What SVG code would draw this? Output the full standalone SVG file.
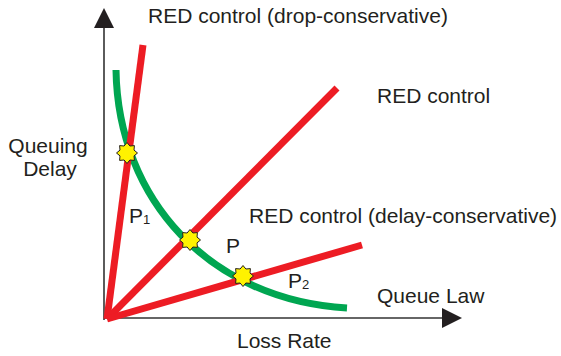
<svg xmlns="http://www.w3.org/2000/svg" xmlns:xlink="http://www.w3.org/1999/xlink" width="561" height="356" viewBox="0 0 561 356">
<style>
  text { font-family: "Liberation Sans", Arial, sans-serif; font-size: 21px; fill: #231f20; }
  .axis { stroke: #333; stroke-width: 1.6; fill: none; }
  .red { stroke: #ed1c24; stroke-width: 7; fill: none; }
  .green { stroke: #00a651; stroke-width: 7; fill: none; }
  .star { fill: #fff200; stroke: #231f20; stroke-width: 1; }
  .sub { font-size: 13px; }
</style>
<defs>
  <polygon id="star" class="star" points="0,-10.5 2.9,-7 7.4,-7.4 7,-2.9 10.5,0 7,2.9 7.4,7.4 2.9,7 0,10.5 -2.9,7 -7.4,7.4 -7,2.9 -10.5,0 -7,-2.9 -7.4,-7.4 -2.9,-7"/>
</defs>
<g id="axes">
  <line class="axis" x1="104" y1="320" x2="104" y2="26"/>
  <polygon points="104,8 94,28 114,28" fill="#231f20"/>
  <line class="axis" x1="104" y1="318" x2="444" y2="318"/>
  <polygon points="462,318 442,308 442,328" fill="#231f20"/>
</g>
<g id="connectors">
  <path id="queue-law" class="green" d="M116,70 C118,200 210,300 347,308"/>
  <line id="red-drop" class="red" x1="107" y1="319" x2="143" y2="45"/>
  <line id="red-mid" class="red" x1="107" y1="319" x2="337" y2="88"/>
  <line id="red-delay" class="red" x1="107" y1="319" x2="362" y2="245"/>
</g>
<g id="P1"><use xlink:href="#star" x="127" y="153"/><text x="129" y="223">P<tspan class="sub" dy="1">1</tspan></text></g>
<g id="P"><use xlink:href="#star" x="190" y="240"/><text x="226" y="253">P</text></g>
<g id="P2"><use xlink:href="#star" x="243" y="276"/><text x="288" y="288">P<tspan class="sub" dy="1">2</tspan></text></g>
<g id="labels">
  <text x="148" y="23">RED control (drop-conservative)</text>
  <text x="377" y="103">RED control</text>
  <text x="249" y="223">RED control (delay-conservative)</text>
  <text x="48" y="153" text-anchor="middle">Queuing</text>
  <text x="50" y="176" text-anchor="middle">Delay</text>
  <text x="377" y="303">Queue Law</text>
  <text x="237" y="348">Loss Rate</text>
</g>
</svg>
